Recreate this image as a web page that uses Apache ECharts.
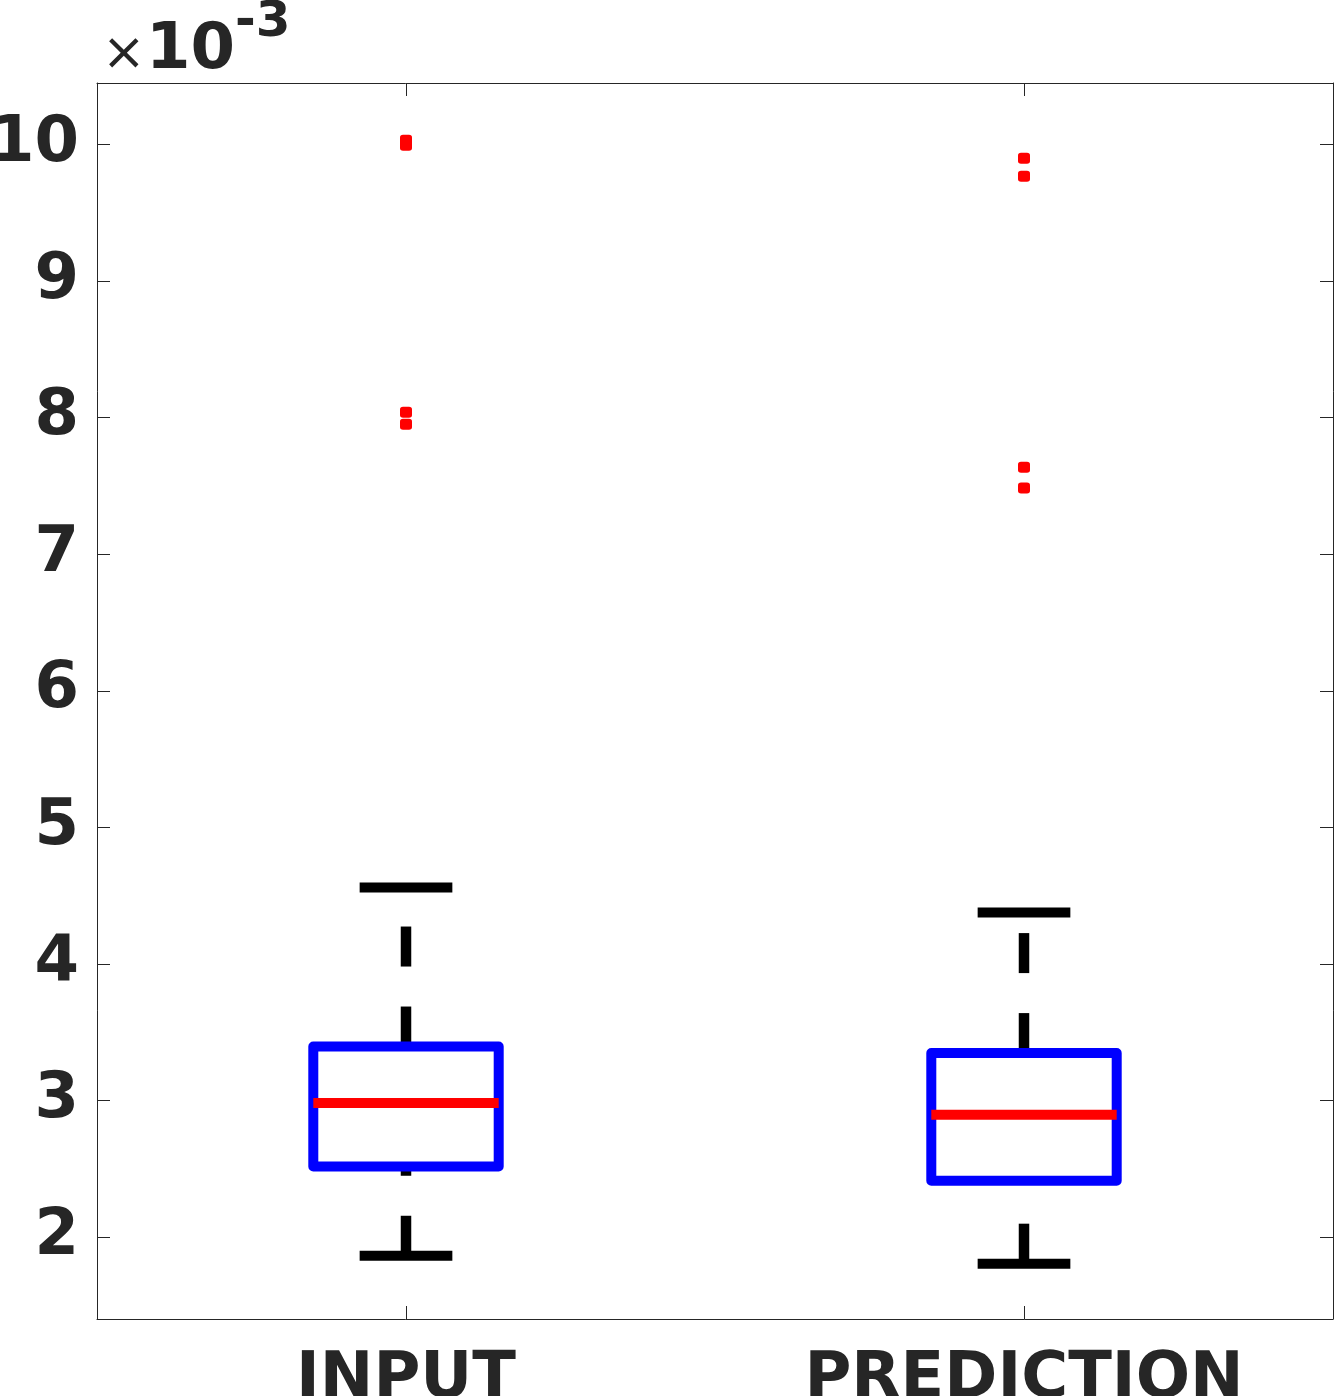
<!DOCTYPE html>
<html>
<head>
<meta charset="utf-8">
<script src="https://cdn.jsdelivr.net/npm/echarts@6/dist/echarts.min.js"></script>
<style>
  html, body { margin: 0; padding: 0; background: #fff; }
  #chart { width: 1334px; height: 1396px; }
</style>
</head>
<body>
<div id="chart"></div>
<script>
// categories and box statistics (units of 1e-3)
var categories = ['INPUT', 'PREDICTION'];
var whiskerLow = [1.863, 1.805];
var q1 = [2.517, 2.412];
var median = [2.981, 2.895];
var q3 = [3.395, 3.347];
var whiskerHigh = [4.559, 4.376];
// outliers: [category index, value]
var outliers = [
  [0, 10.03], [0, 9.995], [0, 8.04], [0, 7.951],
  [1, 9.899], [1, 9.767], [1, 7.637], [1, 7.485]
];

var textColor = '#262626';
var labelFont = 'DejaVu Sans';

var boxData = categories.map(function (c, i) {
  return [i, whiskerLow[i], q1[i], median[i], q3[i], whiskerHigh[i]];
});

function renderBox(params, api) {
  var idx = api.value(0);
  var pMin = api.coord([idx, api.value(1)]);
  var pQ1 = api.coord([idx, api.value(2)]);
  var pMed = api.coord([idx, api.value(3)]);
  var pQ3 = api.coord([idx, api.value(4)]);
  var pMax = api.coord([idx, api.value(5)]);
  var band = api.size([1, 0])[0];
  var boxHalf = band * 0.15;
  var capHalf = band * 0.075;
  var x = pMin[0];
  var dashStyle = { stroke: '#000', lineWidth: 10.5, lineDash: [40, 40], lineCap: 'butt', fill: null };
  var solid = { stroke: '#000', lineWidth: 10, lineCap: 'butt', fill: null };
  return {
    type: 'group',
    children: [
      // whiskers, drawn from the lower value upward
      { type: 'line', shape: { x1: x, y1: pMin[1], x2: x, y2: pQ1[1] }, style: dashStyle },
      { type: 'line', shape: { x1: x, y1: pQ3[1], x2: x, y2: pMax[1] }, style: dashStyle },
      // caps
      { type: 'line', shape: { x1: x - capHalf, y1: pMin[1], x2: x + capHalf, y2: pMin[1] }, style: solid },
      { type: 'line', shape: { x1: x - capHalf, y1: pMax[1], x2: x + capHalf, y2: pMax[1] }, style: solid },
      // box
      {
        type: 'rect',
        shape: { x: x - boxHalf, y: pQ3[1], width: boxHalf * 2, height: pQ1[1] - pQ3[1] },
        style: { stroke: '#0000FF', lineWidth: 10, lineJoin: 'round', fill: '#fff' }
      },
      // median
      {
        type: 'line',
        shape: { x1: x - boxHalf, y1: pMed[1], x2: x + boxHalf, y2: pMed[1] },
        style: { stroke: '#FF0000', lineWidth: 10, lineCap: 'butt' }
      }
    ]
  };
}

var chart = echarts.init(document.getElementById('chart'));

var yCommon = {
  type: 'value',
  min: 1.4,
  max: 10.45,
  splitNumber: 9,
  minInterval: 1,
  maxInterval: 1,
  splitLine: { show: false },
  axisLine: { show: true, lineStyle: { color: textColor, width: 1 } },
  axisTick: { show: true, inside: true, length: 13, lineStyle: { color: textColor, width: 1 } }
};

var option = {
  backgroundColor: '#fff',
  animation: false,
  grid: { left: 97, top: 83, width: 1236, height: 1236, containLabel: false, outerBoundsMode: 'none' },
  xAxis: [
    {
      type: 'category',
      data: categories,
      position: 'bottom',
      axisLine: { show: true, lineStyle: { color: textColor, width: 1 } },
      axisTick: { show: true, inside: true, alignWithLabel: true, length: 13, lineStyle: { color: textColor } },
      axisLabel: {
        margin: 29,
        color: textColor,
        fontFamily: labelFont,
        fontWeight: 'bold',
        fontSize: 64
      },
      splitLine: { show: false }
    },
    {
      type: 'category',
      data: categories,
      position: 'top',
      axisLine: { show: true, lineStyle: { color: textColor, width: 1 } },
      axisTick: { show: true, inside: true, alignWithLabel: true, length: 13, lineStyle: { color: textColor } },
      axisLabel: { show: false },
      splitLine: { show: false }
    }
  ],
  yAxis: [
    Object.assign({}, yCommon, {
      position: 'left',
      axisLabel: {
        margin: 18,
        color: textColor,
        fontFamily: labelFont,
        fontWeight: 'bold',
        fontSize: 64,
        padding: [12, 0, 0, 0],
        showMinLabel: false,
        showMaxLabel: false,
        formatter: function (v) { return Math.abs(v - Math.round(v)) < 1e-6 ? String(Math.round(v)) : ''; }
      }
    }),
    Object.assign({}, yCommon, {
      position: 'right',
      axisLabel: { show: false }
    })
  ],
  graphic: [
    { type: 'text', x: 102, y: 55, style: { text: '\u00d7', font: 'normal 52px "DejaVu Sans"', fill: textColor, verticalAlign: 'middle' } },
    { type: 'text', x: 146, y: 51, style: { text: '10', font: 'bold 64px "DejaVu Sans"', fill: textColor, verticalAlign: 'middle' } },
    { type: 'text', x: 235, y: 23, style: { text: '-3', font: 'bold 50px "DejaVu Sans"', fill: textColor, verticalAlign: 'middle' } }
  ],
  series: [
    {
      type: 'custom',
      renderItem: renderBox,
      data: boxData,
      encode: { x: 0, y: [1, 2, 3, 4, 5] },
      z: 2
    },
    {
      type: 'scatter',
      data: outliers,
      symbol: 'roundRect',
      symbolSize: [12, 11],
      itemStyle: { color: '#FF0000', opacity: 1 },
      z: 3
    }
  ]
};

chart.setOption(option);
</script>
</body>
</html>
